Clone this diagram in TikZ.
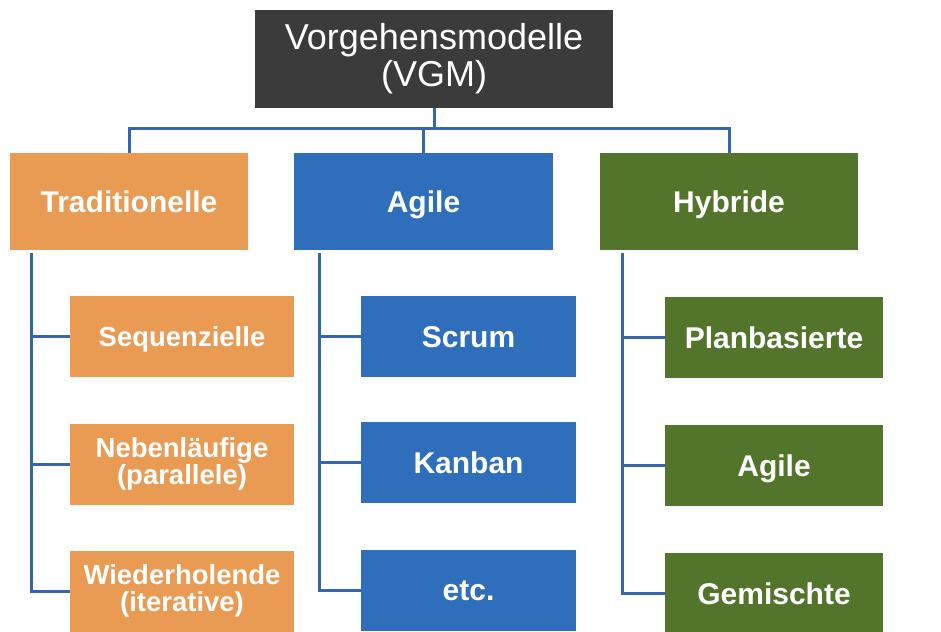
\documentclass[tikz,border=0pt]{standalone}
\usepackage{fontspec}
\setmainfont{Liberation Sans}
\definecolor{vgmdark}{HTML}{3B3B3B}
\definecolor{tradorange}{HTML}{E99A53}
\definecolor{agileblue}{HTML}{2F6EBA}
\definecolor{hybgreen}{HTML}{52752B}
\definecolor{linkblue}{HTML}{3565AE}
\tikzset{
  box/.style={rectangle, inner sep=0pt, text=white, align=center},
  % single-line labels: centre the capitals, ignore descenders
  oneline/.style={text height=21.5pt, text depth=0pt},
  onelinesmall/.style={text height=19.7pt, text depth=0pt},
  rootbox/.style={box, fill=vgmdark, minimum width=358pt, minimum height=98pt,
    font=\fontsize{36}{37}\selectfont},
  catbox/.style={box, oneline, minimum width=238pt, minimum height=97pt,
    font=\fontsize{30}{32}\selectfont\bfseries},
  leafbox/.style={box, minimum height=81pt,
    font=\fontsize{30}{30}\selectfont\bfseries},
  tradleaf/.style={leafbox, fill=tradorange, minimum width=224pt,
    font=\fontsize{27.5}{27.5}\selectfont\bfseries},
  agileleaf/.style={leafbox, oneline, fill=agileblue, minimum width=215pt},
  hybleaf/.style={leafbox, oneline, fill=hybgreen, minimum width=218pt},
  link/.style={draw=linkblue, line width=3pt}
}
\begin{document}
\begin{tikzpicture}[x=1pt, y=-1pt]
  \useasboundingbox (0,0) rectangle (941,631);
  \clip (0,0) rectangle (941,631);
  \fill[white] (0,0) rectangle (941,631);

  % root
  \node[rootbox] (vgm) at (434,59) {Vorgehensmodelle\\(VGM)};

  % categories
  \node[catbox, fill=tradorange] (trad) at (129,201.5) {Traditionelle};
  \node[catbox, fill=agileblue, minimum width=259pt] (agile) at (423.5,201.5) {Agile};
  \node[catbox, fill=hybgreen, minimum width=258pt] (hyb) at (729,201.5) {Hybride};

  % traditional leaves
  \node[tradleaf, onelinesmall] (seq) at (182,336.5) {Sequenzielle};
  \node[tradleaf] (neb) at (182,464) {Nebenläufige\\(parallele)};
  \node[tradleaf] (wied) at (182,591) {Wiederholende\\(iterative)};

  % agile leaves
  \node[agileleaf] (scrum) at (468.5,336.5) {Scrum};
  \node[agileleaf] (kanban) at (468.5,462.5) {Kanban};
  \node[agileleaf] (etc) at (468.5,590) {etc.};

  % hybrid leaves
  \node[hybleaf] (plan) at (774,337.5) {Planbasierte};
  \node[hybleaf] (hagile) at (774,465.5) {Agile};
  \node[hybleaf] (gem) at (774,593.5) {Gemischte};

  % bus from root to categories
  \coordinate (bus) at (434,129);
  \draw[link] (vgm.south) -- (bus);
  \draw[link] (trad.north) |- (bus) -| (hyb.north);
  \draw[link] (agile.north) -- (agile.north |- bus);

  % trees below each category
  \coordinate (tl) at ([xshift=22pt,yshift=-3pt]trad.south west);
  \draw[link] (tl) |- (wied.west);
  \draw[link] (seq.west -| tl) -- (seq.west);
  \draw[link] (neb.west -| tl) -- (neb.west);

  \coordinate (al) at ([xshift=26pt,yshift=-3pt]agile.south west);
  \draw[link] (al) |- (etc.west);
  \draw[link] (scrum.west -| al) -- (scrum.west);
  \draw[link] (kanban.west -| al) -- (kanban.west);

  \coordinate (hl) at ([xshift=23pt,yshift=-3pt]hyb.south west);
  \draw[link] (hl) |- (gem.west);
  \draw[link] (plan.west -| hl) -- (plan.west);
  \draw[link] (hagile.west -| hl) -- (hagile.west);
\end{tikzpicture}
\end{document}
